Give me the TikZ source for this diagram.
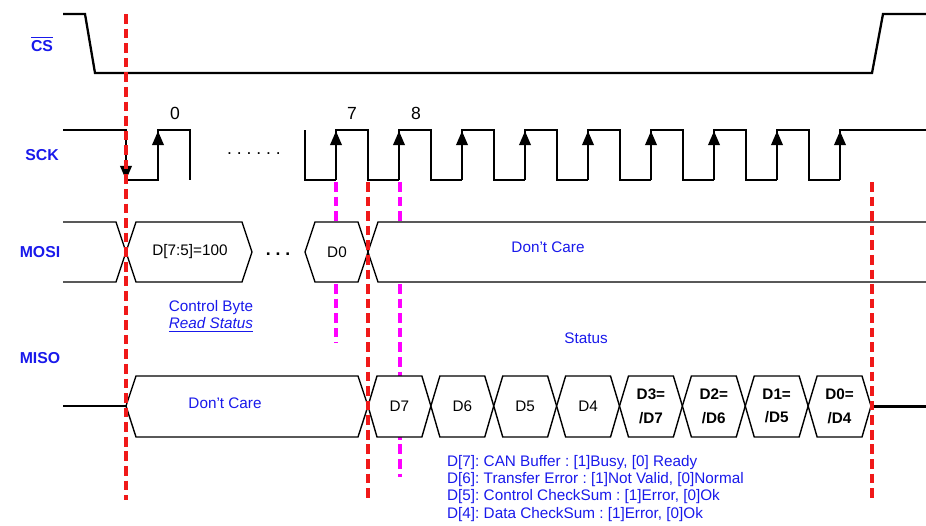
\documentclass[tikz,border=0pt]{standalone}
\usepackage{fontspec}
\setmainfont{Liberation Sans}
\usetikzlibrary{arrows.meta}
\frenchspacing

\definecolor{sigblue}{RGB}{25,25,235}
\definecolor{cutred}{RGB}{240,25,25}
\definecolor{edgemag}{RGB}{255,0,255}

\tikzset{
  wave/.style={line width=1.3pt},
  bus/.style={line width=0.8pt},
  sig/.style={font=\bfseries\fontsize{9}{10}\selectfont, text=sigblue},
  note/.style={font=\fontsize{8.7}{10.5}\selectfont, text=sigblue},
  cell/.style={font=\fontsize{8.7}{13.5}\selectfont, align=center},
  cutline/.style={cutred, line width=1.9pt, dash pattern=on 5.5pt off 2.8pt},
  edgeline/.style={edgemag, line width=1.9pt, dash pattern=on 5.5pt off 2.8pt},
  clkedge/.style={-{Triangle[width=6.5pt,length=8pt]}, line width=1.3pt},
}

\begin{document}
\begin{tikzpicture}[x=0.02cm,y=-0.02cm]
      \useasboundingbox (0,0) rectangle (926,525);
      % signal names
      \node[sig] (cs) at (42,44) {$\overline{\mbox{CS}}$};
      \node[sig] (sck) at (42,155) {SCK};
      \node[sig] (mosi) at (40,252) {MOSI};
      \node[sig] (miso) at (40,358) {MISO};

      % chip select
      \draw[wave] (63,14) -- (85,14) -- (95,73) -- (872,73) -- (883,14) -- (926,14);

      % clock
      \draw[wave] (63,130) -- (126,130) -- (126,180) -- (158,180) -- (158,130) -- (190,130) -- (190,180);
      \draw[wave] (305,130) -- (305,180) -- (336,180);
      \foreach \k [evaluate=\k as \r using 336+63*\k] in {0,...,7}
        \draw[wave] (\r,180) -- (\r,130) -- (\r+32,130) -- (\r+32,180) -- (\r+63,180);
      \draw[wave] (840,180) -- (840,130) -- (926,130);
      \draw[clkedge] (126,130) -- (126,180);
      \foreach \r in {158,336,399,462,525,588,651,714,777,840}
        \draw[clkedge] (\r,180) -- (\r,131);
      \node (n0) at (175,113) {0};
      \node (n7) at (352,113) {7};
      \node (n8) at (416,113) {8};
      \node (skip) at (254,154) {. . . . . .};

      % edge markers
      \draw[edgeline] (336,182) -- (336,343);
      \draw[edgeline] (400,182) -- (400,477);

      % MOSI
      \draw[bus] (63,222) -- (116,222) -- (126,252) -- (116,282) -- (63,282);
      \filldraw[bus,fill=white] (126,252) -- (136,222) -- (242,222) -- (252,252) -- (242,282) -- (136,282) -- cycle;
      \filldraw[bus,fill=white] (305,252) -- (315,222) -- (358,222) -- (368,252) -- (358,282) -- (315,282) -- cycle;
      \filldraw[bus,fill=white] (926,222) -- (378,222) -- (368,252) -- (378,282) -- (926,282);
      \node[cell] (ctrl) at (190,252) {D[7:5]=100};
      \node (more) at (278,254) {\textbf{. . .}};
      \node[cell] (d0) at (337,252) {D0};
      \node[note] (mosidc) at (548,247) {Don't Care};
      \node[note] (ctrlbyte) at (211,308) {Control Byte};
      \node[note] (rdstat) at (211,325) {\underline{\textit{Read Status}}};

      % MISO
      \node[note] (status) at (586,338) {Status};
      \draw[bus] (63,406) -- (126,406);
      \filldraw[bus,fill=white] (126,406) -- (136,376) -- (358,376) -- (368,406) -- (358,437) -- (136,437) -- cycle;
      \node[note] (misodc) at (225,403) {Don't Care};
      \foreach \lbl [count=\i from 0] in {D7,D6,D5,D4,{\textbf{D3=}\\\textbf{/D7}},{\textbf{D2=}\\\textbf{/D6}},{\textbf{D1=}\\\textbf{/D5}},{\textbf{D0=}\\\textbf{/D4}}} {
        \pgfmathsetmacro\a{368+62.875*\i}
        \pgfmathsetmacro\b{\a+62.875}
        \filldraw[bus,fill=white] (\a,406) -- (\a+9,376) -- (\b-9,376) -- (\b,406) -- (\b-9,437) -- (\a+9,437) -- cycle;
        \node[cell] (bit\i) at ({(\a+\b)/2},406) {\lbl};
      }
      \draw[line width=1.7pt] (871,406) -- (926,406);

      % status bits
      \node[note,anchor=west] (b7) at (441,463) {D[7]: CAN Buffer : [1]Busy, [0] Ready};
      \node[note,anchor=west] (b6) at (441,480) {D[6]: Transfer Error : [1]Not Valid, [0]Normal};
      \node[note,anchor=west] (b5) at (441,497) {D[5]: Control CheckSum : [1]Error, [0]Ok};
      \node[note,anchor=west] (b4) at (441,515) {D[4]: Data CheckSum : [1]Error, [0]Ok};

      % sampling boundaries
      \draw[cutline] (126,14) -- (126,500);
      \draw[cutline] (368,182) -- (368,500);
      \draw[cutline] (872,182) -- (872,500);
\end{tikzpicture}
\end{document}
